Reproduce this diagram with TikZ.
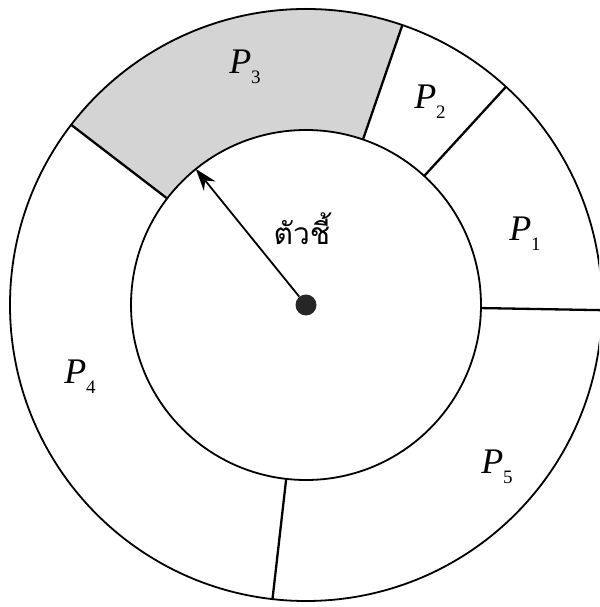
\documentclass[tikz,border=0pt]{standalone}
\usepackage{fontspec}
\setmainfont{Liberation Serif}
\usetikzlibrary{arrows.meta}
\newfontfamily\thaifont[Script=Thai]{Loma}
\newcommand{\pname}[1]{\textit{P}\raisebox{-0.28em}{\fontsize{19}{22}\selectfont #1}}
\begin{document}
\begin{tikzpicture}[x=1pt,y=1pt,
ring/.style={line width=1.8pt},
cut/.style={line width=2.3pt},
lbl/.style={font=\fontsize{36}{42}\selectfont},
dot/.style={circle,fill=black!85,minimum size=21pt,inner sep=0pt}
]
\useasboundingbox (-306,-302) rectangle (293,305);
% shaded part P3
\fill[black!17] (71:175) arc[start angle=71,end angle=142.5,radius=175]
  -- (142.5:297) arc[start angle=142.5,end angle=71,radius=297] -- cycle;
\begin{scope}
\clip (-306,-302) rectangle (293,305);
\draw[ring] (0,0) circle[radius=296];
\end{scope}
\draw[ring] (0,0) circle[radius=175];
\foreach \a in {-1,47.5,71,142.5,263.5}
  \draw[cut] (\a:175) -- (\a:296);

\node[lbl] (p1) at (219,71) {\pname{1}};
\node[lbl] (p2) at (124,203) {\pname{2}};
\node[lbl] (p3) at (-61,238) {\pname{3}};
\node[lbl] (p4) at (-226,-72) {\pname{4}};
\node[lbl] (p5) at (191,-162) {\pname{5}};

\node[dot] (ctr) at (0,0) {};
\coordinate (tip) at (129:175);
\draw[line width=1.8pt,-{Stealth[length=22pt,width=15pt]}] (ctr) -- (tip);
\node[font=\thaifont\fontsize{30}{36}\selectfont] (ptr) at (-4,76) {ตัวชี้};
\end{tikzpicture}
\end{document}
